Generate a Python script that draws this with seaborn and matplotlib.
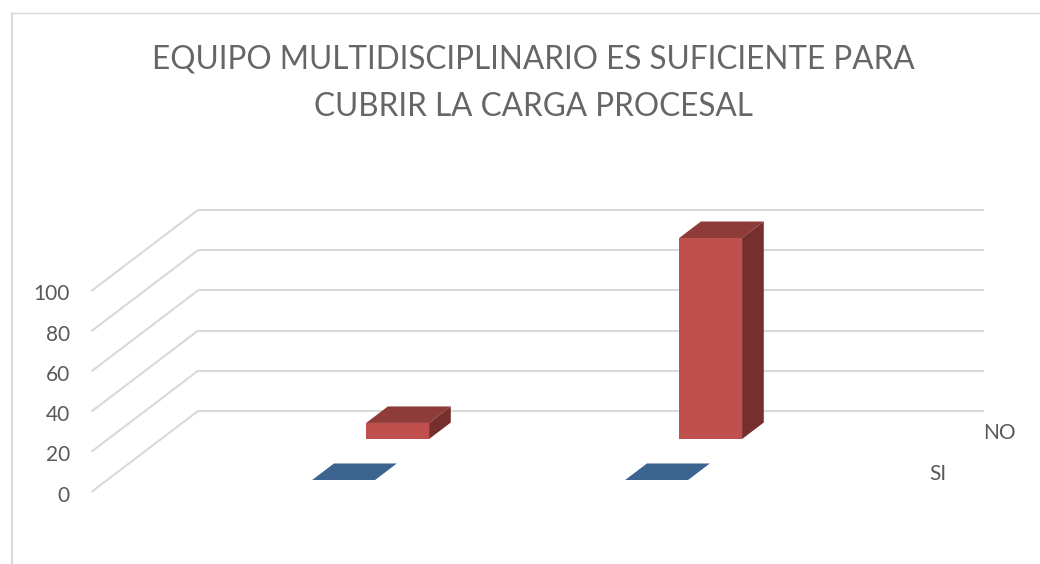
import seaborn as sns; sns.set_style("white")
import matplotlib.pyplot as plt
from matplotlib.lines import Line2D
from matplotlib.patches import Polygon
from matplotlib.transforms import Affine2D
import pandas as pd

plt.rcParams['font.family'] = ['Lato', 'DejaVu Sans']

TITLE = 'EQUIPO MULTIDISCIPLINARIO ES SUFICIENTE PARA\nCUBRIR LA CARGA PROCESAL'
categories = ['A', 'B']
si_values = [0, 0]
no_values = [8, 100]
y_ticks = [0, 20, 40, 60, 80, 100]

W, H = 1040, 564
TXT = '#595959'
GRID = '#d9d9d9'
XLIM = (-0.7556, 1.7556)
# floor depth in pixels, front plane to back plane
DEPTH_X, DEPTH_Y = 106, 80.5
BAR_DEPTH = 0.205


def offset(ax, frac):
    return ax.transData + Affine2D().translate(frac * DEPTH_X, frac * DEPTH_Y)


def draw_series(ax, values, frac, front, top, side, z):
    df = pd.DataFrame({'cat': categories, 'val': values})
    n0 = len(ax.patches)
    sns.barplot(x='cat', y='val', data=df, color=front, saturation=1, width=0.201, ax=ax)
    # seaborn moves the limits, the pixel faces below need the final ones
    ax.set_xlim(*XLIM)
    ax.set_ylim(0, 100)
    dx = BAR_DEPTH * DEPTH_X
    dy = BAR_DEPTH * DEPTH_Y
    for bar in list(ax.patches[n0:]):
        x0, x1, h = bar.get_x(), bar.get_x() + bar.get_width(), bar.get_height()
        bar.set_transform(offset(ax, frac))
        bar.set_facecolor(front)
        bar.set_edgecolor('none')
        bar.set_zorder(z + 1)
        bar.set_clip_on(False)
        corners = offset(ax, frac).transform([(x0, 0), (x1, h)])
        (xa, yb), (xb, yt) = corners
        ax.add_patch(Polygon([(xa, yt), (xb, yt), (xb + dx, yt + dy), (xa + dx, yt + dy)],
                             closed=True, transform=None, facecolor=top, edgecolor='none',
                             zorder=z, clip_on=False))
        if h > 0:
            ax.add_patch(Polygon([(xb, yb), (xb, yt), (xb + dx, yt + dy), (xb + dx, yb + dy)],
                                 closed=True, transform=None, facecolor=side, edgecolor='none',
                                 zorder=z, clip_on=False))


fig = plt.figure(figsize=(W / 100, H / 100), dpi=100)
ax = fig.add_axes([92 / W, (H - 491.5) / H, 786 / W, 201 / H])
ax.patch.set_alpha(0)

draw_series(ax, si_values, 0.143, '#3b6491', '#3b6491', '#2f5077', 3)
draw_series(ax, no_values, 0.652, '#c0504d', '#8f3b39', '#772f2d', 5)

# gridlines on the back wall and the floor edge running to the front
for v in y_ticks:
    ax.plot(XLIM, [v, v], transform=offset(ax, 1), color=GRID, lw=1.5,
            clip_on=False, zorder=1, solid_capstyle='butt')
    (px, py) = ax.transData.transform((XLIM[0], v))
    ax.add_line(Line2D([px, px + DEPTH_X], [py, py + DEPTH_Y], transform=None, color=GRID,
                       lw=1.5, clip_on=False, zorder=1))

sns.despine(ax=ax, left=True, bottom=True)
ax.set_xlabel('')
ax.set_ylabel('')
ax.set_xticks([])
ax.set_yticks(y_ticks)
ax.tick_params(axis='y', length=0, pad=16, labelsize=15, labelcolor=TXT)
for lbl in ax.get_yticklabels():
    lbl.set_transform(lbl.get_transform() + Affine2D().translate(0, -2))

fig.text(983 / W, 1 - 433 / H, 'NO', color=TXT, fontsize=15, ha='left', va='center')
fig.text(929 / W, 1 - 474 / H, 'SI', color=TXT, fontsize=15, ha='left', va='center')
fig.text(533 / W, 1 - 83 / H, TITLE, color='#666666', fontsize=22.7,
         ha='center', va='center', linespacing=1.72)

# chart frame, only top and left are inside the crop
fig.add_artist(Line2D([12 / W, 12 / W], [0, 1 - 13 / H], color=GRID, lw=1.5))
fig.add_artist(Line2D([12 / W, 1], [1 - 13 / H, 1 - 13 / H], color=GRID, lw=1))

plt.savefig('out.png', dpi=100)
